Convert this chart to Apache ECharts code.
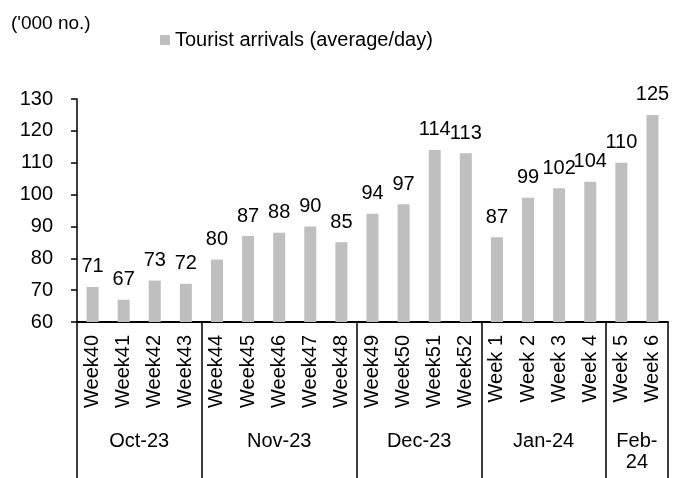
<!DOCTYPE html>
<html style="height: 100%">
   <head>
       <meta charset="utf-8">
   </head>
   <body style="height: 100%; margin: 0">
       <div id="container" style="width: 681px; height: 478px"></div>
       <script type="text/javascript" src="https://cdn.jsdelivr.net/npm/echarts@6/dist/echarts.min.js"></script>
       <script type="text/javascript">
var weeks = ['Week40', 'Week41', 'Week42', 'Week43', 'Week44', 'Week45', 'Week46', 'Week47',
    'Week48', 'Week49', 'Week50', 'Week51', 'Week52', 'Week 1', 'Week 2', 'Week 3', 'Week 4',
    'Week 5', 'Week 6'];
var arrivals = [71, 67, 73, 72, 79.6, 87, 88, 90, 85, 94, 97, 114, 113, 86.6, 99, 102, 104, 110, 125];
var months = ['Oct-23', 'Nov-23', 'Dec-23', 'Jan-24', 'Feb-\n24'];
var monthWeeks = [4, 5, 4, 4, 2];

// group boundaries and centres, in category units
var bounds = [0];
var centres = [];
monthWeeks.forEach(function (n) {
    var start = bounds[bounds.length - 1];
    centres.push(start + n / 2);
    bounds.push(start + n);
});

var font = 'Liberation Sans, Arial, sans-serif';
var dom = document.getElementById("container");
var myChart = echarts.init(dom);
var option = {
    animation: false,
    backgroundColor: '#fff',
    title: {
        text: "('000 no.)",
        left: 6,
        top: 9,
        textStyle: {fontFamily: font, fontSize: 19, fontWeight: 'normal', color: '#000'}
    },
    legend: {
        left: 155,
        top: 25,
        itemWidth: 10,
        itemHeight: 10,
        icon: 'rect',
        textStyle: {fontFamily: font, fontSize: 20, color: '#000'},
        data: ['Tourist arrivals (average/day)']
    },
    grid: {left: 77, right: 13, top: 99, bottom: 156},
    xAxis: [{
        type: 'category',
        data: weeks,
        axisLine: {lineStyle: {color: '#000', width: 2}},
        axisTick: {interval: 0, length: 91, lineStyle: {color: '#000', width: 1.5}},
        axisLabel: {
            interval: 0, rotate: 90, margin: 13,
            fontFamily: font, fontSize: 20, color: '#000'
        }
    }, {
        type: 'value',
        position: 'bottom',
        min: 0,
        max: weeks.length,
        splitLine: {show: false},
        axisLine: {show: false},
        axisTick: {show: true, length: 160, customValues: bounds, lineStyle: {color: '#000', width: 1.5}},
        axisLabel: {
            customValues: centres,
            margin: 109,
            verticalAlign: 'top',
            lineHeight: 21,
            fontFamily: font, fontSize: 20, color: '#000',
            formatter: function (v) {
                return months[centres.indexOf(v)];
            }
        }
    }],
    yAxis: {
        type: 'value',
        min: 60,
        max: 130,
        interval: 10,
        splitLine: {show: false},
        axisLine: {show: true, lineStyle: {color: '#000', width: 1.5}},
        axisTick: {show: true, length: 6, lineStyle: {color: '#000', width: 1.5}},
        axisLabel: {margin: 24, fontFamily: font, fontSize: 20, color: '#000'}
    },
    series: [{
        name: 'Tourist arrivals (average/day)',
        type: 'bar',
        data: arrivals,
        barWidth: 12,
        itemStyle: {color: '#bfbfbf'},
        label: {
            show: true,
            position: 'top',
            distance: 10,
            fontFamily: font, fontSize: 20, color: '#000',
            formatter: function (p) { return Math.round(p.value); }
        }
    }]
};
myChart.setOption(option);
       </script>
   </body>
</html>
